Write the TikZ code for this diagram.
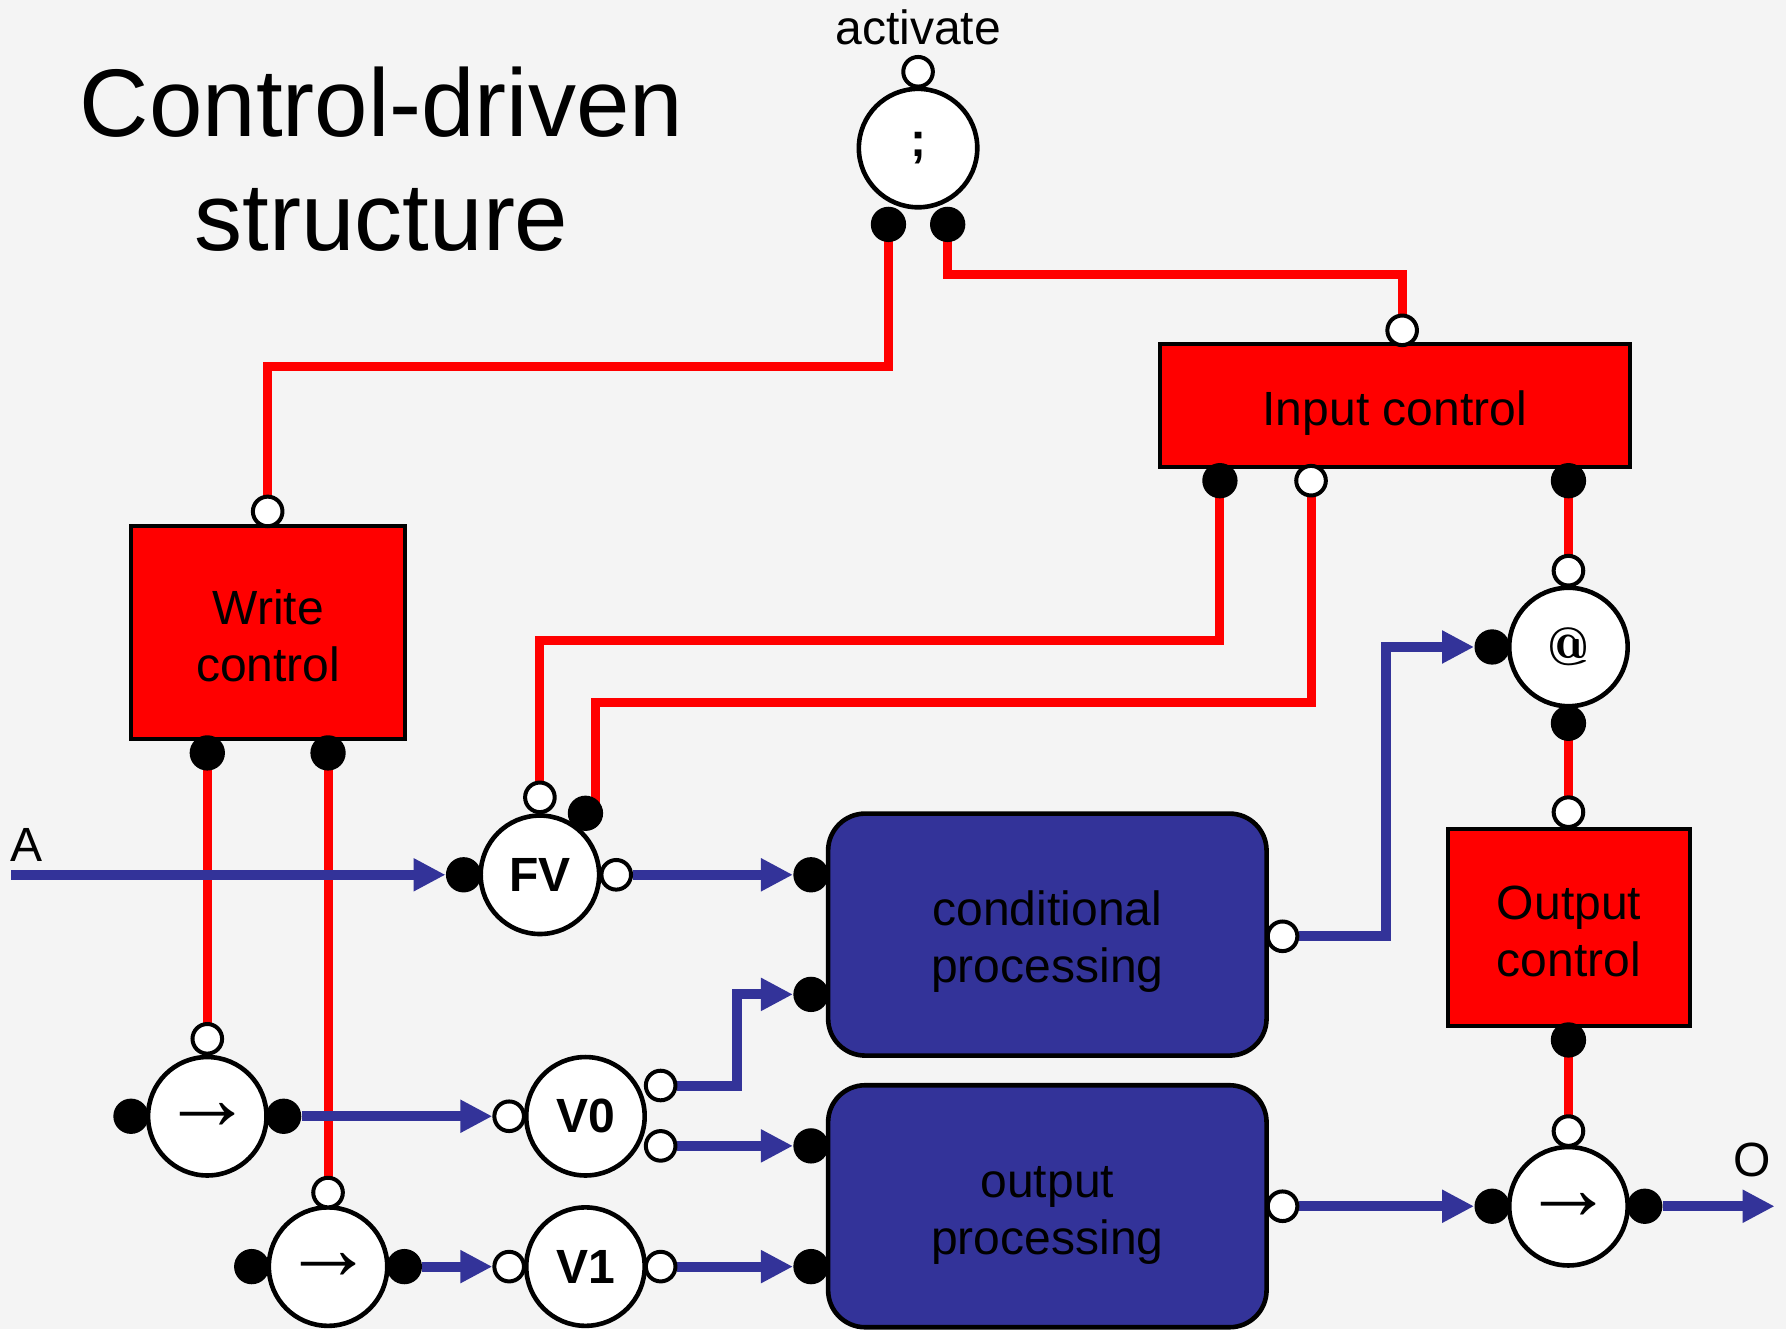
\documentclass[tikz,border=0pt]{standalone}
\usepackage{fontspec}
\setmainfont{Liberation Sans}
\usetikzlibrary{arrows.meta,positioning}
\definecolor{bgc}{HTML}{F4F4F4}
\definecolor{navy}{HTML}{333399}
\newcommand\linestrut{\rule[-4.5pt]{0pt}{29.1pt}}
\pgfdeclarelayer{background}
\pgfdeclarelayer{wires}
\pgfsetlayers{background,wires,main}

\begin{document}
\begin{tikzpicture}[x=0.02cm,y=-0.02cm,
  op/.style={draw,circle,fill=white,line width=2pt,minimum size=0.52cm,inner sep=0pt},
  cl/.style={circle,fill=black,minimum size=0.62cm,inner sep=0pt},
  unit/.style={draw,circle,fill=white,line width=2.3pt,minimum size=2.08cm,inner sep=0pt,font=\fontsize{24}{28}\selectfont\bfseries},
  mv/.style={unit,font=\fontsize{46}{46}\selectfont\bfseries},
  boxtext/.style={align=center,font=\fontsize{24}{28.5}\selectfont,
    execute at begin node=\linestrut,execute at end node=\linestrut},
  ctlbox/.style={boxtext,draw,fill=red,line width=2pt},
  procbox/.style={boxtext,draw,fill=navy,line width=2.3pt,rounded corners=0.65cm,minimum width=7.7cm,minimum height=4.25cm},
  ctl/.style={red,line width=4.5pt},
  flow/.style={navy,line width=5pt,-{Triangle[length=16pt,width=15.5pt]}},
  lbl/.style={font=\fontsize{24}{28}\selectfont}]
\begin{pgfonlayer}{background}
\fill[bgc] (0,0) rectangle (1568,1167);
\end{pgfonlayer}
\useasboundingbox (0,0) rectangle (1568,1167);

\node[font=\fontsize{48}{57}\selectfont,align=center] (title) at (335,140) {Control-driven\\structure};
\node[lbl] (act) at (806,24) {activate};
\node[lbl] (la) at (23,742) {A};
\node[lbl] (lo) at (1538,1018) {O};

\node[unit] (sc) at (806,130) {;};
\node[op] (scT) at (806,63) {};
\node[cl] (scL) at (780,197) {};
\node[cl] (scR) at (832,197) {};

\node[ctlbox,minimum width=8.26cm,minimum height=2.16cm] (ic) at (1224.5,356) {Input control};
\node[op] (icT) at (1231,290) {};
\node[cl] (icA) at (1071,422) {};
\node[op] (icB) at (1151,422) {};
\node[cl] (icC) at (1377,422) {};

\node[ctlbox,minimum width=4.82cm,minimum height=3.74cm] (wc) at (235.5,555.5) {\linestrut Write\\control};
\node[op] (wcT) at (235,449) {};
\node[cl] (wcA) at (182,661) {};
\node[cl] (wcB) at (288,661) {};

\node[ctlbox,minimum width=4.26cm,minimum height=3.46cm] (oc) at (1377.5,814.5) {\linestrut Output\\control};
\node[op] (ocT) at (1377,713) {};
\node[cl] (ocB) at (1377,913) {};

\node[procbox] (cd) at (919.5,820.5) {\linestrut conditional\\processing};
\node[cl] (cdA) at (712,768) {};
\node[cl] (cdB) at (712,873) {};
\node[op] (cdO) at (1126,822) {};

\node[procbox] (opr) at (919.5,1059) {\linestrut output\\processing};
\node[cl] (opA) at (712,1006) {};
\node[cl] (opB) at (712,1112) {};
\node[op] (opO) at (1126,1059) {};

\node[unit,font=\fontfamily{lmr}\fontsize{27}{27}\selectfont\bfseries] (at) at (1377,568) {@};
\node[op] (atT) at (1377,501) {};
\node[cl] (atL) at (1310,568) {};
\node[cl] (atB) at (1377,635) {};

\node[unit] (fv) at (474,768) {FV};
\node[op] (fvT) at (474,700) {};
\node[cl] (fvB) at (514,714) {};
\node[cl] (fvL) at (407,768) {};
\node[op] (fvO) at (541,768) {};

\node[mv] (m1) at (182,980) {→};
\node[op] (m1T) at (182,912) {};
\node[cl] (m1L) at (115,980) {};
\node[cl] (m1R) at (249,980) {};

\node[mv] (m2) at (288,1112) {→};
\node[op] (m2T) at (288,1047) {};
\node[cl] (m2L) at (221,1112) {};
\node[cl] (m2R) at (355,1112) {};

\node[unit] (v0) at (514,980) {V0};
\node[op] (v0L) at (447,980) {};
\node[op] (v0a) at (580,953) {};
\node[op] (v0b) at (580,1006) {};

\node[unit] (v1) at (514,1112) {V1};
\node[op] (v1L) at (447,1112) {};
\node[op] (v1R) at (580,1112) {};

\node[mv] (m3) at (1377,1059) {→};
\node[op] (m3T) at (1377,993) {};
\node[cl] (m3L) at (1310,1059) {};
\node[cl] (m3R) at (1444,1059) {};

\coordinate (in) at (10,768);
\coordinate (out) at (1558,1059);
\coordinate (k1) at (1217,568);
\coordinate (k2) at (647,873);
\coordinate (k3) at (235,322);
\coordinate (k4) at (1231,241);
\coordinate (k5) at (474,562);
\coordinate (k6) at (523,617);

\begin{pgfonlayer}{wires}
\draw[ctl] (scL.center) |- (k3) -- (wcT.center);
\draw[ctl] (scR.center) |- (k4) -- (icT.center);
\draw[ctl] (icA.center) |- (k5) -- (fvT.center);
\draw[ctl] (icB.center) |- (k6) -- (k6 |- fvB.center);
\draw[ctl] (icC.center) -- (atT.center);
\draw[ctl] (atB.center) -- (ocT.center);
\draw[ctl] (ocB.center) -- (m3T.center);
\draw[ctl] (wcA.center) -- (m1T.center);
\draw[ctl] (wcB.center) -- (m2T.center);
\draw[flow] (in) -- (fvL);
\draw[flow] (fvO) -- (cdA);
\draw[flow] (cdO) -| (k1) -- (atL);
\draw[flow] (m1R) -- (v0L);
\draw[flow] (m2R) -- (v1L);
\draw[flow] (v0a) -| (k2) -- (cdB);
\draw[flow] (v0b) -- (opA);
\draw[flow] (v1R) -- (opB);
\draw[flow] (opO) -- (m3L);
\draw[flow] (m3R) -- (out);
\end{pgfonlayer}
\end{tikzpicture}
\end{document}
